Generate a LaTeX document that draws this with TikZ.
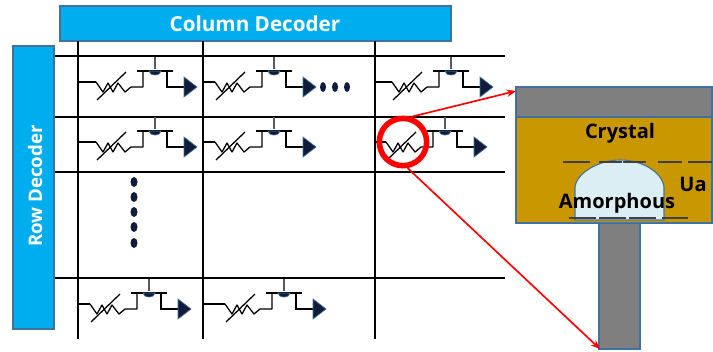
\documentclass[tikz,border=0pt]{standalone}
\usepackage{fontspec}
\setmainfont{Open Sans}
\usetikzlibrary{arrows.meta}
\definecolor{decblue}{HTML}{00AEEF}
\definecolor{edgeblue}{HTML}{41719C}
\definecolor{goldfill}{HTML}{C99700}
\definecolor{amorfill}{HTML}{DAEEF3}
\definecolor{metalgray}{HTML}{7F7F7F}
\definecolor{tipnavy}{HTML}{101C3A}

\tikzset{
  wire/.style={draw=black,line width=0.95pt},
  decoder/.style={fill=decblue,draw=edgeblue,line width=0.9pt},
  dectext/.style={text=white,font=\bfseries\fontsize{15.5}{17}\selectfont,inner sep=0pt},
  block/.style={draw=edgeblue,line width=0.8pt},
  celltext/.style={text=black,font=\bfseries\fontsize{15}{17}\selectfont,inner sep=0pt},
  blob/.style={fill=tipnavy},
  redarrow/.style={draw=red,line width=1.25pt,-{Stealth[length=7pt,width=5.5pt]}},
  cell/.pic={
    \coordinate (-in) at (18,0);
    \draw[wire,line join=round] (18,0) -- (25,10) -- (30,1) -- (35,10) -- (40,1) -- (47,10) -- (53,5) -- (65,5) -- (65,-10);
    \draw[wire] (19,18) -- (48,-10);
    \draw[wire] (59,-11) -- (95,-11);
    \draw[wire,draw=black!65] (77,-13) -- (77,-25);
    \draw[wire] (89,-11) -- (89,5) -- (106,5);
    \fill[tipnavy,draw=edgeblue,line width=0.5pt] (71,-11) arc[start angle=180,end angle=0,x radius=6,y radius=4] -- cycle;
    \fill[tipnavy,draw=edgeblue,line width=0.5pt] (106,-5) -- (106,15) -- (119,5) -- cycle;
  }
}

\begin{document}
\begin{tikzpicture}[x=0.75pt,y=-0.75pt]
\useasboundingbox (0,0) rectangle (713,351);

% decoders
\draw[decoder] (60,6) rectangle (451,41);
\node[dectext] (coldec) at (255,24) {Column Decoder};
\draw[decoder] (13,46) rectangle (54,329);
\node[dectext,font=\bfseries\fontsize{14}{16}\selectfont,rotate=90] (rowdec) at (35,186) {Row Decoder};

% array lines
\foreach \gx in {78,203,375} {
  \coordinate (top\gx) at (\gx,41);
  \coordinate (bot\gx) at (\gx,339);
  \draw[wire] (top\gx) -- (bot\gx);
}
\foreach \gy in {56,117,172,278} {
  \coordinate (lft\gy) at (55,\gy);
  \coordinate (rgt\gy) at (505,\gy);
  \draw[wire] (lft\gy) -- (rgt\gy);
}

% memory cells
\foreach \cx/\cy/\wx [count=\i] in {78/82/78,197/82/203,374/82/375,78/142/78,197/142/203,368/142/375,72/304/78,207/304/203} {
  \pic (cell\i) at (\cx,\cy) {cell};
  \coordinate (wire\i) at (\wx,\cy);
  \draw[wire] (wire\i) -- (cell\i-in);
}

% dots
\foreach \dx in {323,335,347} \fill[blob] (\dx,87) ellipse[x radius=3,y radius=5];
\foreach \dy in {182,197,212,227,243} \fill[blob] (134,\dy) ellipse[x radius=3.5,y radius=5];

% cut through one cell
\fill[metalgray,block] (516,87) rectangle (712,117);
\fill[goldfill,block] (516,117) rectangle (712,223);
\fill[metalgray,block] (599,223) rectangle (640,349);
\fill[amorfill,block] (575,220) -- (575,187) .. controls (577,172) and (600,160) .. (620,160) .. controls (642,160) and (662,172) .. (664,187) -- (664,220) -- cycle;
\foreach \ax/\bx in {563/590,599/622,623/646,658/682,688/712} \draw[wire,draw=black!75] (\ax,162) -- (\bx,162);
\foreach \ax/\bx in {569/596,599/626,629/656,662/688} \draw[wire,draw=black!75] (\ax,218) -- (\bx,218);
\node[celltext] (crystal) at (620,133) {Crystal};
\node[celltext] (ua) at (693,184) {Ua};
\node[celltext] (amorphous) at (617,203) {Amorphous};

% red ring and arrows
\node[circle,draw=red,line width=4.2pt,minimum size=35.5pt,inner sep=0pt] (ring) at (403,142) {};
\coordinate (topend) at (516,91);
\coordinate (stemend) at (600,349);
\draw[redarrow] (ring.72) -- (topend);
\draw[redarrow] (ring.-80) -- (stemend);
\end{tikzpicture}
\end{document}
